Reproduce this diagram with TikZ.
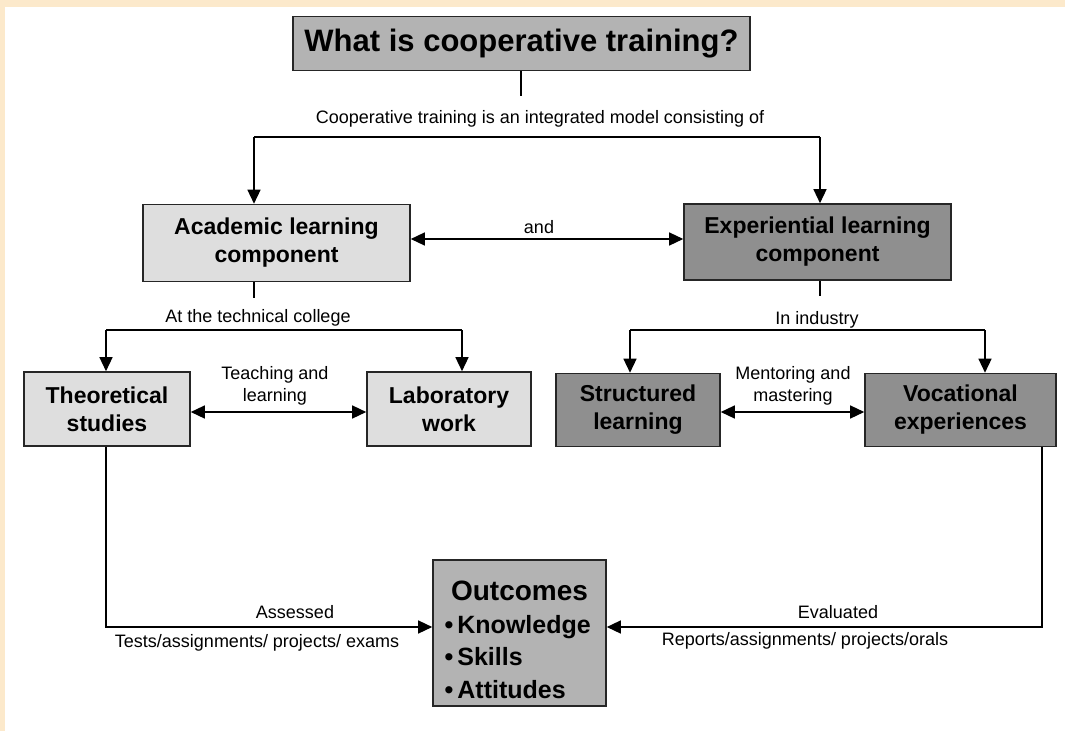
\documentclass[tikz,border=0pt]{standalone}
\usepackage{fontspec}
\setmainfont{Liberation Sans}
\usetikzlibrary{arrows.meta}
\definecolor{beige}{HTML}{FCE9CB}
\definecolor{lightbox}{HTML}{DEDEDE}
\definecolor{darkbox}{HTML}{8F8F8F}
\definecolor{midbox}{HTML}{B3B3B3}
\begin{document}
\begin{tikzpicture}[x=1pt,y=-1pt,
  box/.style={draw=black!85, line width=1.6pt, inner sep=0pt, align=center,
    font=\fontsize{23}{28}\selectfont\bfseries},
  lbl/.style={font=\fontsize{18}{22}\selectfont, inner sep=0pt, align=center},
  conn/.style={line width=1.4pt},
  arr/.style={conn, -{Triangle[length=14pt,width=13pt]}},
  darr/.style={conn, {Triangle[length=14pt,width=13pt]}-{Triangle[length=14pt,width=13pt]}}]
\useasboundingbox (0,0) rectangle (1065,731);
\fill[white] (0,0) rectangle (1065,731);
\fill[beige] (0,0) rectangle (1065,7);
\fill[beige] (0,0) rectangle (5,731);

% boxes
\node[box, fill=midbox, minimum width=457, minimum height=54,
  font=\fontsize{31}{36}\selectfont\bfseries] (title) at (521.5,43.5) {What is cooperative training?};
\node[box, fill=lightbox, minimum width=267, minimum height=77] (aca) at (276.5,243) {Academic learning\\component};
\node[box, fill=darkbox, minimum width=267, minimum height=76] (exp) at (817.5,242) {Experiential learning\\component};
\node[box, fill=lightbox, minimum width=166, minimum height=74] (theo) at (107,409) {Theoretical\\studies};
\node[box, fill=lightbox, minimum width=164, minimum height=74] (lab) at (449,409) {Laboratory\\work};
\node[box, fill=darkbox, minimum width=164, minimum height=73] (str) at (638,410) {Structured\\learning};
\node[box, fill=darkbox, minimum width=191, minimum height=73] (voc) at (960.5,410) {Vocational\\experiences};
\node[box, fill=midbox, minimum width=173, minimum height=146, align=left,
  font=\fontsize{25}{32.5}\selectfont\bfseries] (out) at (519.5,633)
  {\makebox[150pt][c]{\rule{0pt}{33pt}\fontsize{28}{32}\selectfont Outcomes}\\\textbullet\,Knowledge\\\textbullet\,Skills\\\textbullet\,Attitudes};

% top level
\coordinate (t1) at (521,96);
\coordinate (b1) at (254,137);
\coordinate (b2) at (820,137);
\draw[conn] (title.south -| t1) -- (t1);
\node[lbl] (l1) at (540,119) {Cooperative training is an integrated model consisting of};
\draw[conn] (b1) -- (b2);
\draw[arr] (b1) -- (b1 |- aca.north);
\draw[arr] (b2) -- (b2 |- exp.north);

\coordinate (ya) at (0,239);
\draw[darr] (aca.east |- ya) -- (exp.west |- ya);
\node[lbl] (land) at (539,227) {and};

% academic branch
\coordinate (c1) at (254,298);
\draw[conn] (c1 |- aca.south) -- (c1);
\node[lbl] (l2) at (258,318) {At the technical college};
\coordinate (d1) at (106,330);
\coordinate (d2) at (462,330);
\draw[conn] (d1) -- (d2);
\draw[arr] (d1) -- (d1 |- theo.north);
\draw[arr] (d2) -- (d2 |- lab.north);
\coordinate (yt) at (0,412);
\draw[darr] (theo.east |- yt) -- (lab.west |- yt);
\node[lbl] (l3) at (275,386) {Teaching and\\learning};

% experiential branch
\coordinate (c2) at (820,296);
\draw[conn] (c2 |- exp.south) -- (c2);
\node[lbl] (l4) at (817,320) {In industry};
\coordinate (e1) at (630,330);
\coordinate (e2) at (985,330);
\draw[conn] (e1) -- (e2);
\draw[arr] (e1) -- (e1 |- str.north);
\draw[arr] (e2) -- (e2 |- voc.north);
\draw[darr] (str.east |- yt) -- (voc.west |- yt);
\node[lbl] (l5) at (793,386) {Mentoring and\\mastering};

% outcomes
\coordinate (f1) at (106,627);
\coordinate (f2) at (1042,627);
\draw[arr] (f1 |- theo.south) -- (f1) -- (out.west |- f1);
\draw[arr] (f2 |- voc.south) -- (f2) -- (out.east |- f2);
\node[lbl] (l6) at (295,612) {Assessed};
\node[lbl] (l7) at (257,643) {Tests/assignments/ projects/ exams};
\node[lbl] (l8) at (838,612) {Evaluated};
\node[lbl] (l9) at (805,641) {Reports/assignments/ projects/orals};
\end{tikzpicture}
\end{document}
